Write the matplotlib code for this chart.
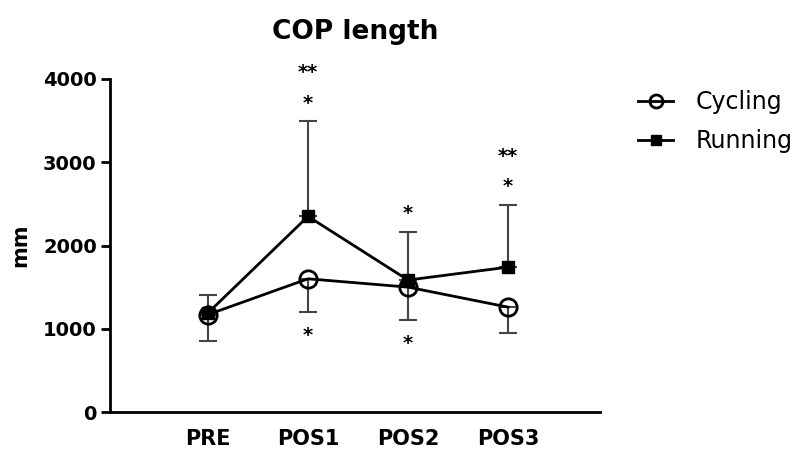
import matplotlib.pyplot as plt
import numpy as np

categories = ["PRE", "POS1", "POS2", "POS3"]
cycling = [1170, 1600, 1500, 1260]
cycling_sd = [317, 400, 395, 310]
running = [1190, 2350, 1585, 1740]
running_sd = [215, 1145, 580, 750]

# significance marks (above running bars, below cycling bars)
running_sig = ["", "*", "*", "*"]
running_sig2 = ["", "**", "", "**"]
cycling_sig = ["", "*", "*", ""]

fig = plt.figure(figsize=(7.99, 4.53), dpi=100)
ax = fig.add_axes([110 / 799, 1 - 412 / 453, 490 / 799, 333 / 453])

x = np.arange(len(categories))
zeros = np.zeros(len(x))
err_col = "#444444"

ax.errorbar(x, cycling, yerr=[cycling_sd, zeros], fmt="none", ecolor=err_col,
            elinewidth=1.5, capsize=6.5, capthick=1.5, zorder=2)
ax.errorbar(x, running, yerr=[zeros, running_sd], fmt="none", ecolor=err_col,
            elinewidth=1.5, capsize=6.5, capthick=1.5, zorder=2)

ax.plot(x, cycling, color="black", lw=2, marker="o", ms=12.5, mfc="none",
        mec="black", mew=2, label="Cycling", zorder=3)
ax.plot(x, running, color="black", lw=2, marker="s", ms=9, mfc="black",
        mec="black", label="Running", zorder=4)

for i in x:
    top = running[i] + running_sd[i]
    bot = cycling[i] - cycling_sd[i]
    kw = dict(textcoords="offset points", ha="center", va="baseline",
              fontsize=14, fontweight="bold")
    if running_sig[i]:
        ax.annotate(running_sig[i], (i, top), xytext=(0, 9), **kw)
    if running_sig2[i]:
        ax.annotate(running_sig2[i], (i, top), xytext=(0, 31), **kw)
    if cycling_sig[i]:
        ax.annotate(cycling_sig[i], (i, bot), xytext=(0, -21), **kw)

ax.set_xlim(-0.98, 3.92)
ax.set_ylim(0, 4000)
ax.set_yticks([0, 1000, 2000, 3000, 4000])
ax.set_xticks(x)
ax.set_xticklabels(categories, fontsize=15, fontweight="bold")
for lab in ax.get_yticklabels():
    lab.set_fontsize(14)
    lab.set_fontweight("bold")
ax.tick_params(axis="x", length=0, pad=12)
ax.tick_params(axis="y", length=6.5, width=2, pad=3)

for s in ["top", "right"]:
    ax.spines[s].set_visible(False)
for s in ["left", "bottom"]:
    ax.spines[s].set_linewidth(2)

ax.set_ylabel("mm", fontsize=15, fontweight="bold", labelpad=9)
ax.set_title("COP length", fontsize=19, fontweight="bold", pad=29)

ax.legend(loc="upper left", bbox_to_anchor=(638 / 799, 1 - 90 / 453),
          bbox_transform=fig.transFigure, frameon=False, fontsize=17,
          handlelength=1.5, handletextpad=0.95, labelspacing=0.65,
          borderaxespad=0, borderpad=0, markerscale=0.75)

fig.savefig("out.png", dpi=100)
